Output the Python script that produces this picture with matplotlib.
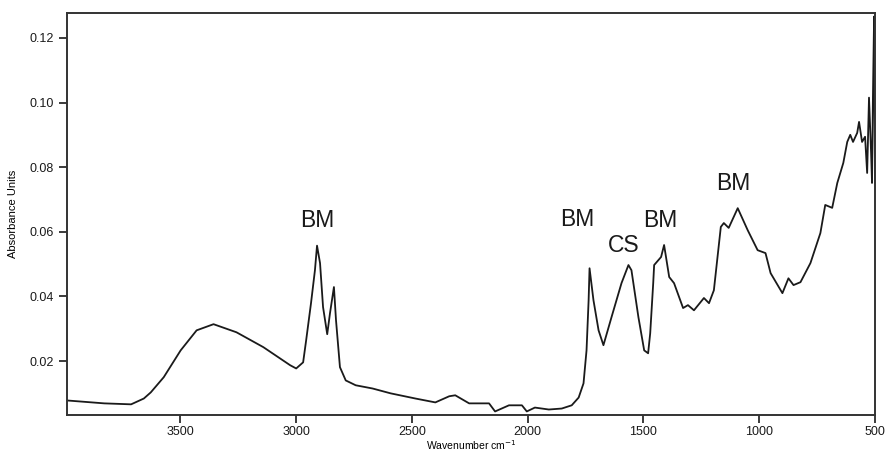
import numpy as np
import matplotlib
matplotlib.use("Agg")
from matplotlib import pyplot as plt

plt.rcParams['font.family'] = ['Liberation Sans', 'DejaVu Sans']

# FTIR spectrum
wavenumber = [3990, 3829, 3713, 3658, 3628, 3572, 3499, 3430, 3357, 3258,
              3142, 3026, 3000, 2970, 2957, 2936, 2919, 2910, 2897, 2884,
              2866, 2854, 2837, 2828, 2811, 2786, 2743, 2670, 2592, 2485,
              2399, 2339, 2313, 2253, 2197, 2167, 2141, 2081, 2025, 2004,
              1969, 1909, 1853, 1810, 1780, 1759, 1746, 1737, 1733, 1716,
              1694, 1673, 1638, 1595, 1565, 1552, 1522, 1497, 1480, 1471,
              1458, 1454, 1424, 1411, 1389, 1368, 1329, 1308, 1282, 1239,
              1217, 1196, 1166, 1153, 1132, 1093, 1050, 1007, 973, 951,
              900, 874, 852, 822, 779, 736, 715, 685, 663, 637,
              620, 607, 595, 577, 569, 556, 543, 534, 526, 517,
              513, 509, 504, 500]
absorbance = [0.0078, 0.0069, 0.0066, 0.0084, 0.0103, 0.0150, 0.0233, 0.0295, 0.0314, 0.0289,
              0.0243, 0.0187, 0.0177, 0.0196, 0.0264, 0.0379, 0.0481, 0.0557, 0.0503, 0.0367,
              0.0283, 0.0348, 0.0429, 0.0326, 0.0181, 0.0140, 0.0125, 0.0115, 0.0100, 0.0084,
              0.0072, 0.0091, 0.0094, 0.0069, 0.0069, 0.0069, 0.0044, 0.0063, 0.0063, 0.0044,
              0.0056, 0.0050, 0.0053, 0.0063, 0.0087, 0.0131, 0.0233, 0.0388, 0.0487, 0.0388,
              0.0295, 0.0249, 0.0336, 0.0441, 0.0497, 0.0481, 0.0336, 0.0233, 0.0224, 0.0286,
              0.0441, 0.0497, 0.0522, 0.0559, 0.0460, 0.0441, 0.0364, 0.0373, 0.0357, 0.0395,
              0.0379, 0.0419, 0.0615, 0.0627, 0.0612, 0.0673, 0.0605, 0.0543, 0.0534, 0.0472,
              0.0410, 0.0456, 0.0435, 0.0444, 0.0503, 0.0596, 0.0683, 0.0674, 0.0751, 0.0813,
              0.0878, 0.0900, 0.0878, 0.0906, 0.0940, 0.0878, 0.0894, 0.0782, 0.1015, 0.0844,
              0.0751, 0.1018, 0.1266, 0.0751]

labels = ["BM", "BM", "CS", "BM", "BM"]
label_x = [2910, 1785, 1587, 1428, 1114]
label_y = [0.0636, 0.0639, 0.0559, 0.0636, 0.0748]

fig = plt.figure(figsize=(8.87, 4.54), dpi=100)
ax = fig.add_axes([0.0755, 0.0859, 0.911, 0.8855])

ax.plot(wavenumber, absorbance, color="#1a1a1a", lw=1.3)
for txt, lx, ly in zip(labels, label_x, label_y):
    ax.text(lx, ly, txt, fontsize=16.5, ha="center", va="center", color="#1a1a1a")

ax.set_xlim(3990, 500)
ax.set_ylim(0.0033, 0.1277)
ax.set_xticks([3500, 3000, 2500, 2000, 1500, 1000, 500])
ax.set_yticks([0.02, 0.04, 0.06, 0.08, 0.10, 0.12])
ax.set_yticklabels(["%.2f" % v for v in ax.get_yticks()])
ax.tick_params(direction="out", length=6, width=1.2, labelsize=9, colors="#1a1a1a")
ax.tick_params(axis="x", pad=2)
for s in ax.spines.values():
    s.set_linewidth(1.4)
    s.set_color("#333333")

ax.set_xlabel("Wavenumber cm$^{-1}$", fontsize=7.5, labelpad=0)
ax.set_ylabel("Absorbance Units", fontsize=8, labelpad=8)

fig.savefig("out.png", dpi=100)
